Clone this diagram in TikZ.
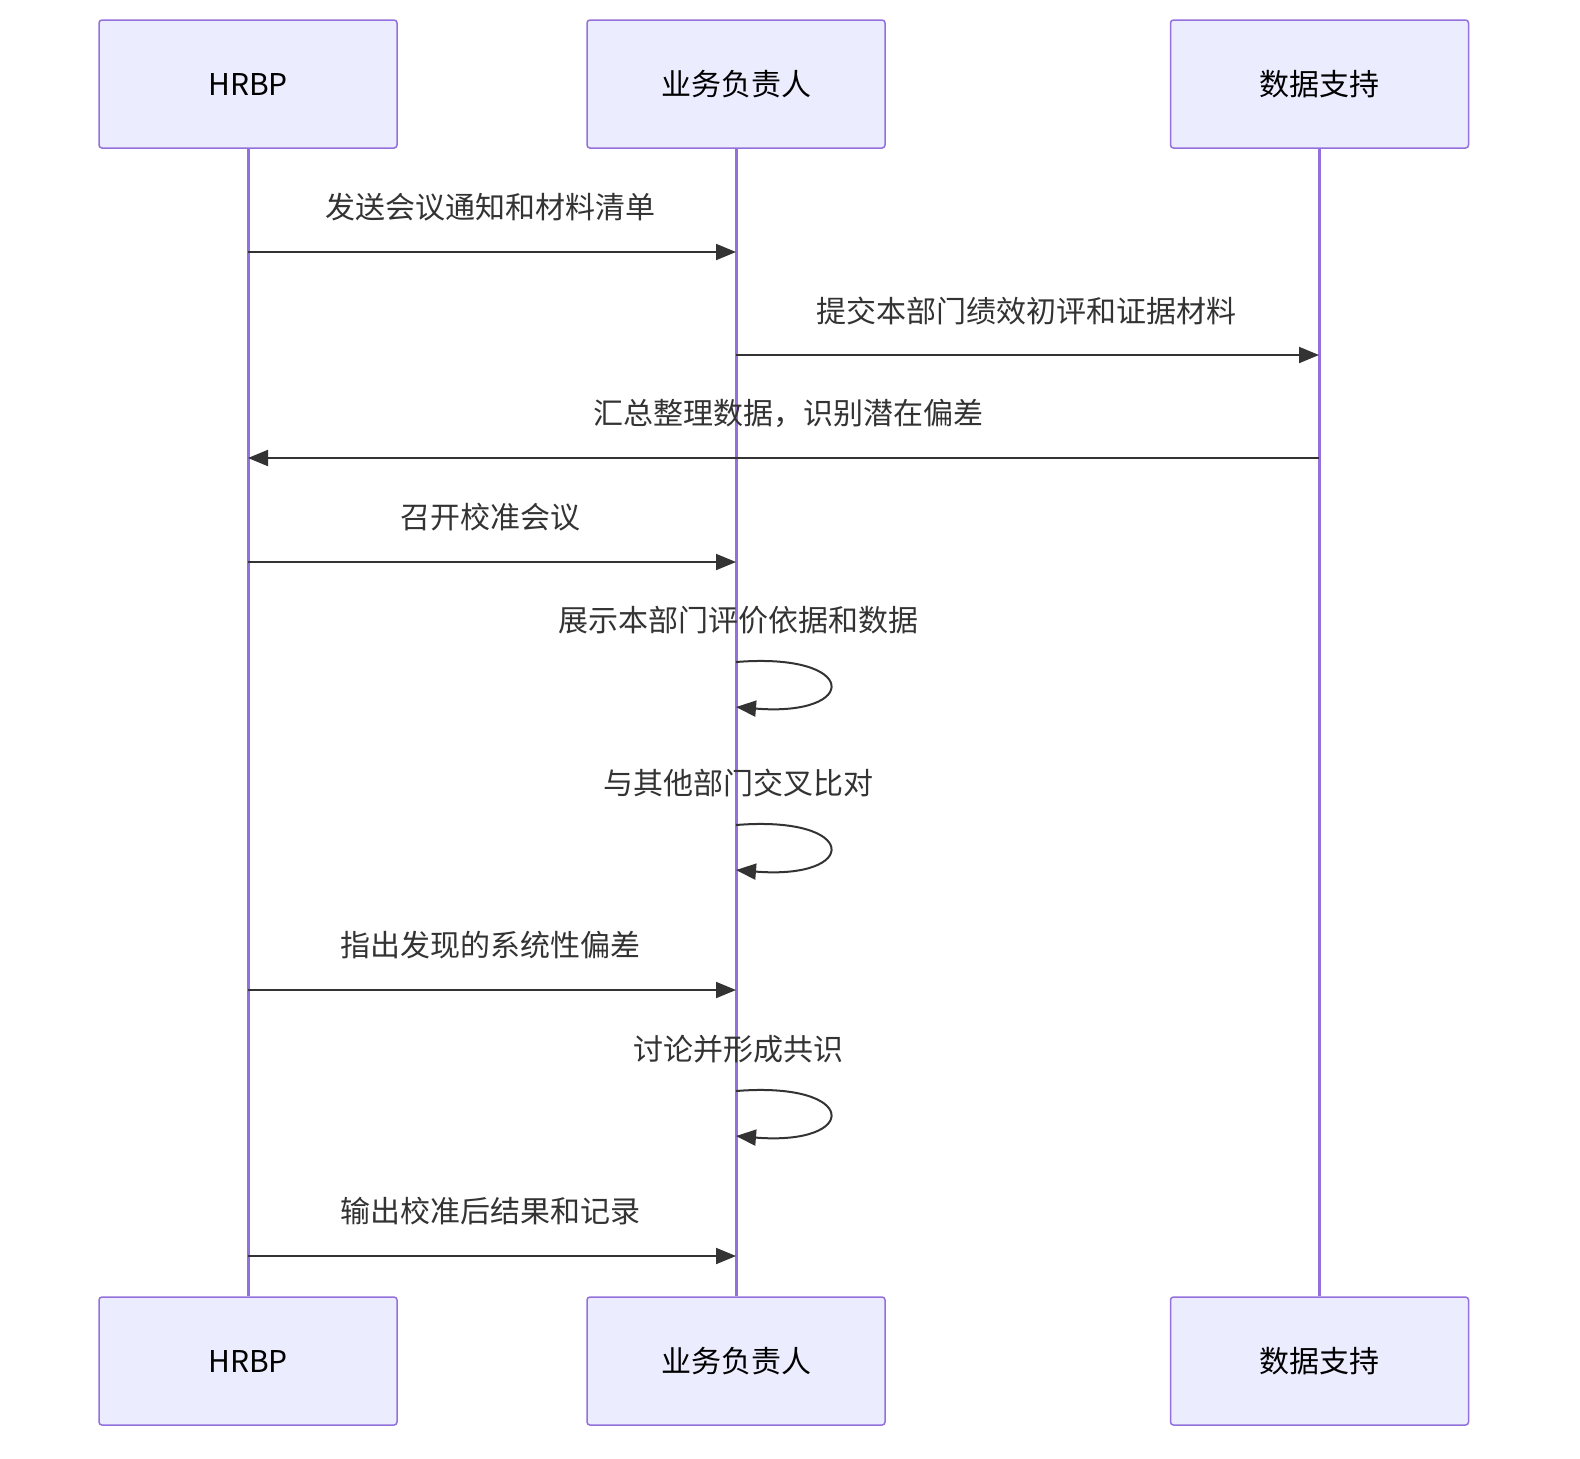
\documentclass[tikz,border=0pt]{standalone}
\usepackage{fontspec}
\setmainfont{Noto Sans CJK SC}
\usetikzlibrary{arrows.meta}
\definecolor{boxfill}{HTML}{ECECFF}
\definecolor{boxline}{HTML}{9370DB}
\definecolor{ink}{HTML}{333333}
\begin{document}
\begin{tikzpicture}[x=0.5pt,y=-0.5pt,
  actor/.style={draw=boxline,fill=boxfill,line width=0.75pt,rounded corners=1.5pt,minimum width=149pt,minimum height=64pt,inner sep=0pt,font=\fontsize{15}{18}\selectfont},
  life/.style={draw=boxline,line width=1.5pt},
  msg/.style={draw=ink,line width=1pt,-{Triangle[length=10pt,width=8pt]}},
  lbl/.style={font=\fontsize{15}{18}\selectfont,text=ink,inner sep=0pt}]
\useasboundingbox (0,0) rectangle (1580,1458);
\node[actor] (a1) at (248,84) {HRBP};
\node[actor] (b1) at (736,84) {业务负责人};
\node[actor] (c1) at (1319.5,84) {数据支持};
\node[actor] (a2) at (248,1361) {HRBP};
\node[actor] (b2) at (736,1361) {业务负责人};
\node[actor] (c2) at (1319.5,1361) {数据支持};
\draw[life] (a1.south) -- (a2.north);
\draw[life] (b1.south) -- (b2.north);
\draw[life] (c1.south) -- (c2.north);
\coordinate (a) at (248,0); \coordinate (b) at (736,0); \coordinate (c) at (1319,0);
% messages
\draw[msg] (a|-0,252) -- (b|-0,252);
\node[lbl] at (490,207) {发送会议通知和材料清单};
\draw[msg] (b|-0,355) -- (c|-0,355);
\node[lbl] at (1026,311) {提交本部门绩效初评和证据材料};
\draw[msg] (c|-0,458) -- (a|-0,458);
\node[lbl] at (788,413) {汇总整理数据，识别潜在偏差};
\draw[msg] (a|-0,562) -- (b|-0,562);
\node[lbl] at (490,517) {召开校准会议};
\node[lbl] at (738,620) {展示本部门评价依据和数据};
\draw[msg] (b|-0,662) .. controls (860,652) and (860,717) .. (b|-0,707);
\node[lbl] at (738,783) {与其他部门交叉比对};
\draw[msg] (b|-0,825) .. controls (860,815) and (860,880) .. (b|-0,870);
\draw[msg] (a|-0,990) -- (b|-0,990);
\node[lbl] at (490,945) {指出发现的系统性偏差};
\node[lbl] at (738,1049) {讨论并形成共识};
\draw[msg] (b|-0,1091) .. controls (860,1081) and (860,1146) .. (b|-0,1136);
\draw[msg] (a|-0,1256) -- (b|-0,1256);
\node[lbl] at (490,1211) {输出校准后结果和记录};
\end{tikzpicture}
\end{document}
